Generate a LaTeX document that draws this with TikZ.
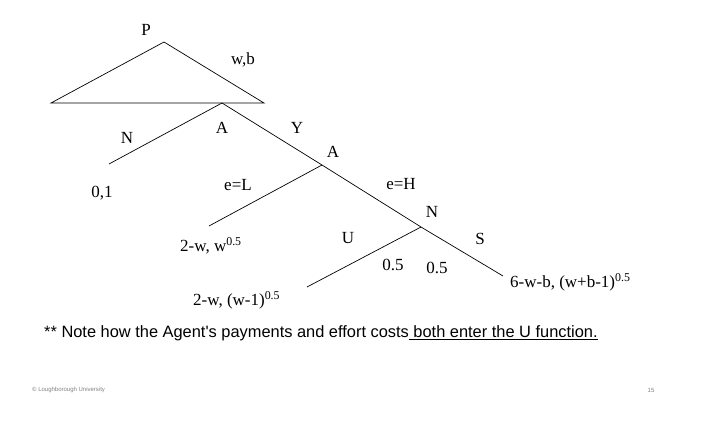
\documentclass[tikz,border=0pt]{standalone}
\usepackage{fontspec}
\setmainfont{Liberation Serif}
\newfontfamily\arialf{Liberation Sans}
\begin{document}
\begin{tikzpicture}[x=1pt,y=-1pt,
  br/.style={line width=0.7pt},
  lab/.style={font=\fontsize{17}{19}\selectfont, inner sep=0pt}]
\useasboundingbox (0,0) rectangle (706,422);
\coordinate (P) at (164,42);
\coordinate (BL) at (51,103);
\coordinate (BR) at (264,103);
\coordinate (A1) at (222,103);
\coordinate (NE) at (109,164);
\coordinate (A2) at (322,165);
\coordinate (LE) at (209,226);
\coordinate (NN) at (421,227);
\coordinate (UE) at (307,287);
\coordinate (SE) at (503,276);
\draw[br] (BL) -- (P) -- (BR) -- cycle;
\draw[br] (NE) -- (A1) -- (A2) -- (NN) -- (SE);
\draw[br] (A2) -- (LE);
\draw[br] (NN) -- (UE);
\node[lab] (lP) at (146,30) {P};
\node[lab] (lwb) at (243,60) {w,b};
\node[lab] (lN1) at (127,138) {N};
\node[lab] (lA1) at (222,128) {A};
\node[lab] (lY) at (297,128) {Y};
\node[lab] (lA2) at (333,152) {A};
\node[lab] (l01) at (102,193) {0,1};
\node[lab] (leL) at (238,185) {e=L};
\node[lab] (leH) at (401,184) {e=H};
\node[lab] (lN2) at (432,212) {N};
\node[lab] (lU) at (348,238) {U};
\node[lab] (lS) at (480,239) {S};
\node[lab,anchor=west] (lLp) at (180,246) {2-w, w\textsuperscript{0.5}};
\node[lab] (l05a) at (393,265) {0.5};
\node[lab] (l05b) at (437,268) {0.5};
\node[lab,anchor=west] (lSp) at (510,282) {6-w-b, (w+b-1)\textsuperscript{0.5}};
\node[lab,anchor=west] (lUp) at (193,300) {2-w, (w-1)\textsuperscript{0.5}};
\node[anchor=west,inner sep=0pt,font=\arialf\fontsize{16.4}{18}\selectfont] (note) at (44,333) {** Note how the Agent's payments and effort costs\underline{ both enter the U function.}};
\node[anchor=west,inner sep=0pt,font=\arialf\fontsize{6}{7}\selectfont,text=gray] (foot) at (32,390) {© Loughborough University};
\node[inner sep=0pt,font=\arialf\fontsize{6}{7}\selectfont,text=gray] (pg) at (651,390) {15};
\end{tikzpicture}
\end{document}
